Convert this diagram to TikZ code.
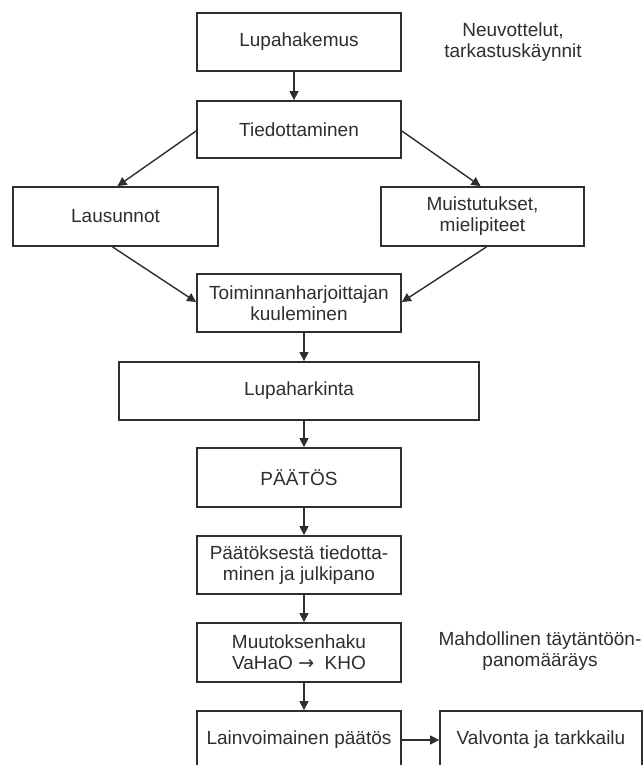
\documentclass[tikz,border=0pt]{standalone}
\usepackage{fontspec}
\setmainfont{Liberation Sans}
\newfontfamily\symfont{DejaVu Sans}
\usetikzlibrary{arrows.meta}
\definecolor{ink}{HTML}{2E2E2E}
\tikzset{
  box/.style={draw=ink, line width=1.8pt, fill=white, inner sep=0pt, align=center,
    text=ink, font=\fontsize{19}{21}\selectfont},
  plain/.style={inner sep=0pt, align=center, text=ink, font=\fontsize{19}{21}\selectfont},
  arr/.style={draw=ink, line width=1.4pt, -{Triangle[length=9pt,width=9pt]}},
}
\begin{document}
\begin{tikzpicture}[x=1pt, y=-1pt]
\useasboundingbox (0,0) rectangle (644,765);
\clip (0,0) rectangle (644,765);
\fill[white] (0,0) rectangle (644,765);

\node[box, minimum width=204pt, minimum height=58pt] (lupa) at (299,42) {Lupahakemus};
\node[box, minimum width=204pt, minimum height=57pt] (tied) at (299,129.5) {Tiedottaminen};
\node[box, minimum width=205pt, minimum height=59pt] (laus) at (115.5,216.5) {Lausunnot};
\node[box, minimum width=203pt, minimum height=59pt] (muist) at (482.5,216.5) {Muistutukset,\\mielipiteet};
\node[box, minimum width=204pt, minimum height=58pt] (toim) at (299,303) {Toiminnanharjoittajan\\kuuleminen};
\node[box, minimum width=360pt, minimum height=58pt] (hark) at (299,391) {Lupaharkinta};
\node[box, minimum width=204pt, minimum height=59pt] (paat) at (299,477.5) {PÄÄTÖS};
\node[box, minimum width=204pt, minimum height=58pt] (julk) at (299,565) {Päätöksestä tiedotta-\\minen ja julkipano};
\node[box, minimum width=204pt, minimum height=59pt] (muut) at (299,652.5) {Muutoksenhaku\\VaHaO {\symfont →}\ \ KHO};
\node[box, minimum width=204pt, minimum height=58pt] (lain) at (299,740) {Lainvoimainen päätös};
\node[box, minimum width=202pt, minimum height=58pt] (valv) at (541,740) {Valvonta ja tarkkailu};

\node[plain] (neuv) at (513,42.5) {Neuvottelut,\\tarkastuskäynnit};
\node[plain] (mahd) at (540,651.5) {Mahdollinen täytäntöön-\\panomääräys};

\draw[arr] ([xshift=-5pt]lupa.south) -- ([xshift=-5pt]tied.north);
\draw[arr] ([yshift=-1.5pt]tied.west) -- ([xshift=2pt]laus.north);
\draw[arr] ([yshift=-1.5pt]tied.east) -- ([xshift=-2pt]muist.north);
\draw[arr] ([xshift=-3pt]laus.south) -- ([yshift=1pt]toim.west);
\draw[arr] ([xshift=4pt]muist.south) -- ([yshift=1pt]toim.east);
\draw[arr] ([xshift=5pt]toim.south) -- ([xshift=5pt]hark.north);
\draw[arr] ([xshift=5pt]hark.south) -- ([xshift=5pt]paat.north);
\draw[arr] ([xshift=5pt]paat.south) -- ([xshift=5pt]julk.north);
\draw[arr] ([xshift=5pt]julk.south) -- ([xshift=5pt]muut.north);
\draw[arr] ([xshift=5pt]muut.south) -- ([xshift=5pt]lain.north);
\draw[arr] (lain.east) -- (valv.west);
\end{tikzpicture}
\end{document}
